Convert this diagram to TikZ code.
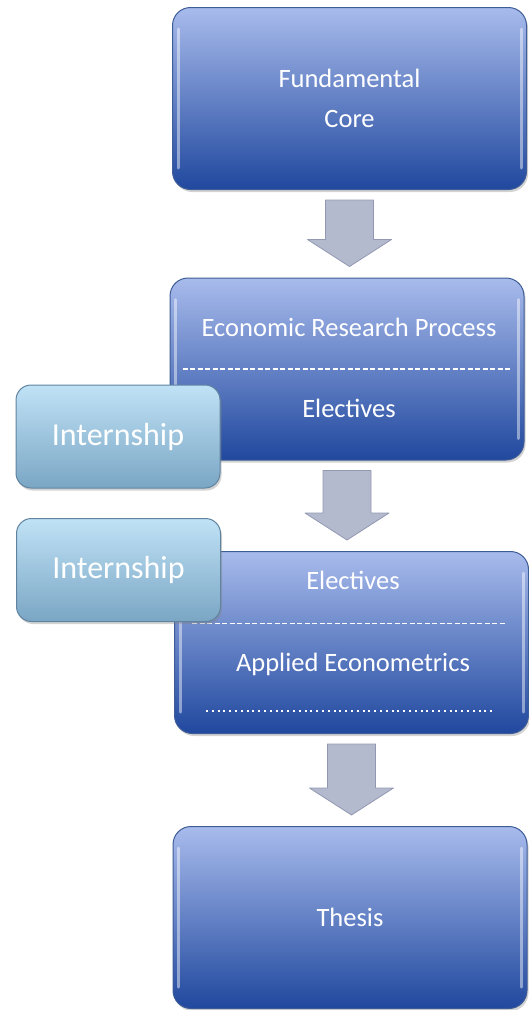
\documentclass[tikz,border=0pt]{standalone}
\usepackage{fontspec}
\setmainfont{Carlito}
\usepackage{tikz}
\usetikzlibrary{
    positioning,           % Relative positioning
    calc,                  % Coordinate calculations
    shadows                % Drop shadows
}

\definecolor{boxtop}{RGB}{168,187,236}
\definecolor{boxmid}{RGB}{106,134,204}
\definecolor{boxbot}{RGB}{32,72,158}
\definecolor{boxedge}{RGB}{62,92,150}
\definecolor{interntop}{RGB}{192,226,246}
\definecolor{internbot}{RGB}{122,166,196}
\definecolor{internedge}{RGB}{96,132,160}
\definecolor{arrowfill}{RGB}{180,186,206}
\definecolor{arrowedge}{RGB}{146,152,178}

\tikzset{
    mainbox/.style={rounded corners=18pt, minimum width=354pt, minimum height=182pt,
        draw=boxedge, line width=1pt, top color=boxtop, middle color=boxmid, bottom color=boxbot,
        drop shadow={opacity=0.35, shadow xshift=1.5pt, shadow yshift=-2.5pt},
        text=white, align=center, font=\fontsize{26.5}{40}\selectfont},
    internbox/.style={rounded corners=15pt, minimum width=204pt, minimum height=103pt,
        draw=internedge, line width=1pt, top color=interntop, bottom color=internbot,
        drop shadow={opacity=0.35, shadow xshift=1.5pt, shadow yshift=-2.5pt},
        text=white, font=\fontsize{32}{36}\selectfont},
    boxtext/.style={text=white, font=\fontsize{26.5}{30}\selectfont, text height=17pt, text depth=5pt},
    bevel/.style={white, opacity=0.45, line width=3pt, line cap=round},
    splitline/.style={white, line width=1.1pt, dash pattern=on 5pt off 2.5pt},
    dotline/.style={white, line width=2pt, dash pattern=on 2pt off 3.8pt},
    blockarrow/.style={fill=arrowfill, draw=arrowedge, line width=0.8pt, line join=round}
}

% block arrow in the gap between two boxes
\newcommand{\downblock}[2]{
    \path[blockarrow] let \p1=($(#1.south)+(0,10)$), \p2=($(#2.north)+(0,-11)$) in
        (\x1-24pt,\y1) -- (\x1+24pt,\y1) -- (\x1+24pt,\y2+27pt) -- (\x1+42pt,\y2+27pt)
        -- (\x1,\y2) -- (\x1-42pt,\y2+27pt) -- (\x1-24pt,\y2+27pt) -- cycle;
}
\newcommand{\bevels}[1]{
    \draw[bevel] ($(#1.north west)+(6,22)$) -- ($(#1.south west)+(6,-22)$);
    \draw[bevel] ($(#1.north east)+(-6,22)$) -- ($(#1.south east)+(-6,-22)$);
}

\begin{document}
\begin{tikzpicture}[x=1pt,y=-1pt]
    \useasboundingbox (0,0) rectangle (529,1010);

    \node[mainbox] (core) at (349.5,98.5) {Fundamental\\Core};
    \node[mainbox] (erp) at (347,369) {};
    \node[mainbox] (ectr) at (351.5,642.5) {};
    \node[mainbox] (thesis) at (350,917.5) {Thesis};
    \bevels{core} \bevels{erp} \bevels{ectr} \bevels{thesis}

    \node[boxtext] (erptop) at (349,330) {Economic Research Process};
    \node[boxtext] (erpbot) at (349,411) {Electives};
    \draw[splitline] ($(erp.west)+(13,0)$) -- ($(erp.east)+(-14,0)$);

    \node[boxtext] (ectrtop) at (353,583) {Electives};
    \node[boxtext] (ectrbot) at (353,665) {Applied Econometrics};
    \draw[splitline] ($(ectr.west)+(18,-19)$) -- ($(ectr.east)+(-23,-19)$);
    \draw[dotline] ($(ectr.south west)+(32,-23)$) -- ($(ectr.south east)+(-35,-23)$);

    \node[internbox] (intern1) at (118,436.5) {Internship};
    \node[internbox] (intern2) at (118.5,570) {Internship};

    \downblock{core}{erp}
    \downblock{erp}{ectr}
    \downblock{ectr}{thesis}
\end{tikzpicture}
\end{document}
